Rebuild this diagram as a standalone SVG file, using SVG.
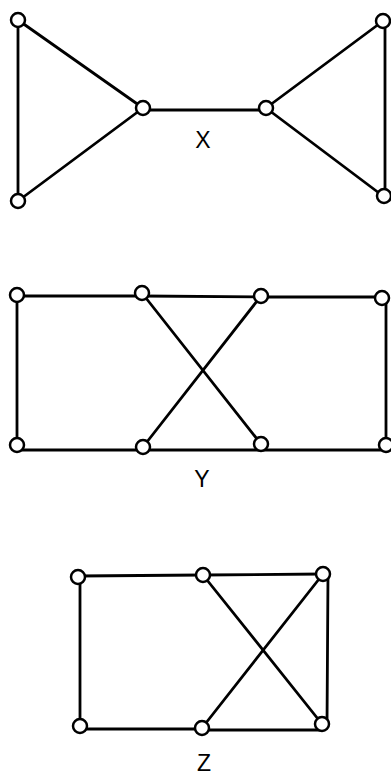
<svg xmlns="http://www.w3.org/2000/svg" width="391" height="775" viewBox="0 0 391 775">
<style>
.e{stroke:#000;stroke-width:2.8;fill:none;stroke-linecap:round}
.n{fill:#fff;stroke:#000;stroke-width:2.5}
.t{font-family:"Liberation Sans",Arial,sans-serif;font-size:23px;fill:#000;text-anchor:middle}
</style>
<rect width="391" height="775" fill="#fff"/>
<g id="connectors">
<!-- X -->
<line class="e" x1="18" y1="20" x2="18" y2="201"/>
<line class="e" x1="18" y1="20" x2="143" y2="108"/>
<line class="e" x1="18" y1="201" x2="143" y2="108"/>
<line class="e" x1="143" y1="110" x2="266" y2="110"/>
<line class="e" x1="266" y1="108" x2="383" y2="21"/>
<line class="e" x1="266" y1="108" x2="383" y2="196"/>
<line class="e" x1="385" y1="21" x2="385" y2="196"/>
<!-- Y -->
<line class="e" x1="17" y1="296" x2="142" y2="296"/>
<line class="e" x1="142" y1="296" x2="261" y2="297"/>
<line class="e" x1="261" y1="297" x2="382" y2="297"/>
<line class="e" x1="17" y1="296" x2="17" y2="446"/>
<line class="e" x1="386" y1="298" x2="386" y2="446"/>
<line class="e" x1="17" y1="450" x2="143" y2="450"/>
<line class="e" x1="143" y1="450" x2="261" y2="450"/>
<line class="e" x1="261" y1="450" x2="386" y2="450"/>
<line class="e" x1="142" y1="293" x2="261" y2="444"/>
<line class="e" x1="261" y1="296" x2="143" y2="447"/>
<!-- Z -->
<line class="e" x1="78" y1="576" x2="203" y2="575"/>
<line class="e" x1="203" y1="575" x2="323" y2="574"/>
<line class="e" x1="80" y1="577" x2="80" y2="726"/>
<line class="e" x1="80" y1="729" x2="202" y2="729"/>
<line class="e" x1="202" y1="730" x2="322" y2="730"/>
<line class="e" x1="328" y1="574" x2="327" y2="725"/>
<line class="e" x1="203" y1="575" x2="322" y2="724"/>
<line class="e" x1="323" y1="574" x2="202" y2="728"/>
</g>
<g id="X-n1"><circle class="n" cx="18" cy="20" r="7"/></g>
<g id="X-n2"><circle class="n" cx="18" cy="201" r="7"/></g>
<g id="X-n3"><circle class="n" cx="143" cy="108" r="7"/></g>
<g id="X-n4"><circle class="n" cx="266" cy="108" r="7"/></g>
<g id="X-n5"><circle class="n" cx="383" cy="21" r="7"/></g>
<g id="X-n6"><circle class="n" cx="384" cy="196" r="7"/></g>
<g id="Y-n1"><circle class="n" cx="17" cy="295" r="7"/></g>
<g id="Y-n2"><circle class="n" cx="142" cy="293" r="7"/></g>
<g id="Y-n3"><circle class="n" cx="261" cy="296" r="7"/></g>
<g id="Y-n4"><circle class="n" cx="382" cy="298" r="7"/></g>
<g id="Y-n5"><circle class="n" cx="17" cy="445" r="7"/></g>
<g id="Y-n6"><circle class="n" cx="143" cy="447" r="7"/></g>
<g id="Y-n7"><circle class="n" cx="261" cy="444" r="7"/></g>
<g id="Y-n8"><circle class="n" cx="386" cy="445" r="7"/></g>
<g id="Z-n1"><circle class="n" cx="78" cy="577" r="7"/></g>
<g id="Z-n2"><circle class="n" cx="203" cy="575" r="7"/></g>
<g id="Z-n3"><circle class="n" cx="323" cy="574" r="7"/></g>
<g id="Z-n4"><circle class="n" cx="80" cy="726" r="7"/></g>
<g id="Z-n5"><circle class="n" cx="202" cy="728" r="7"/></g>
<g id="Z-n6"><circle class="n" cx="322" cy="724" r="7"/></g>
<g id="labels">
<text class="t" x="203" y="148">X</text>
<text class="t" x="202" y="487">Y</text>
<text class="t" x="204" y="771">Z</text>
</g>
</svg>
